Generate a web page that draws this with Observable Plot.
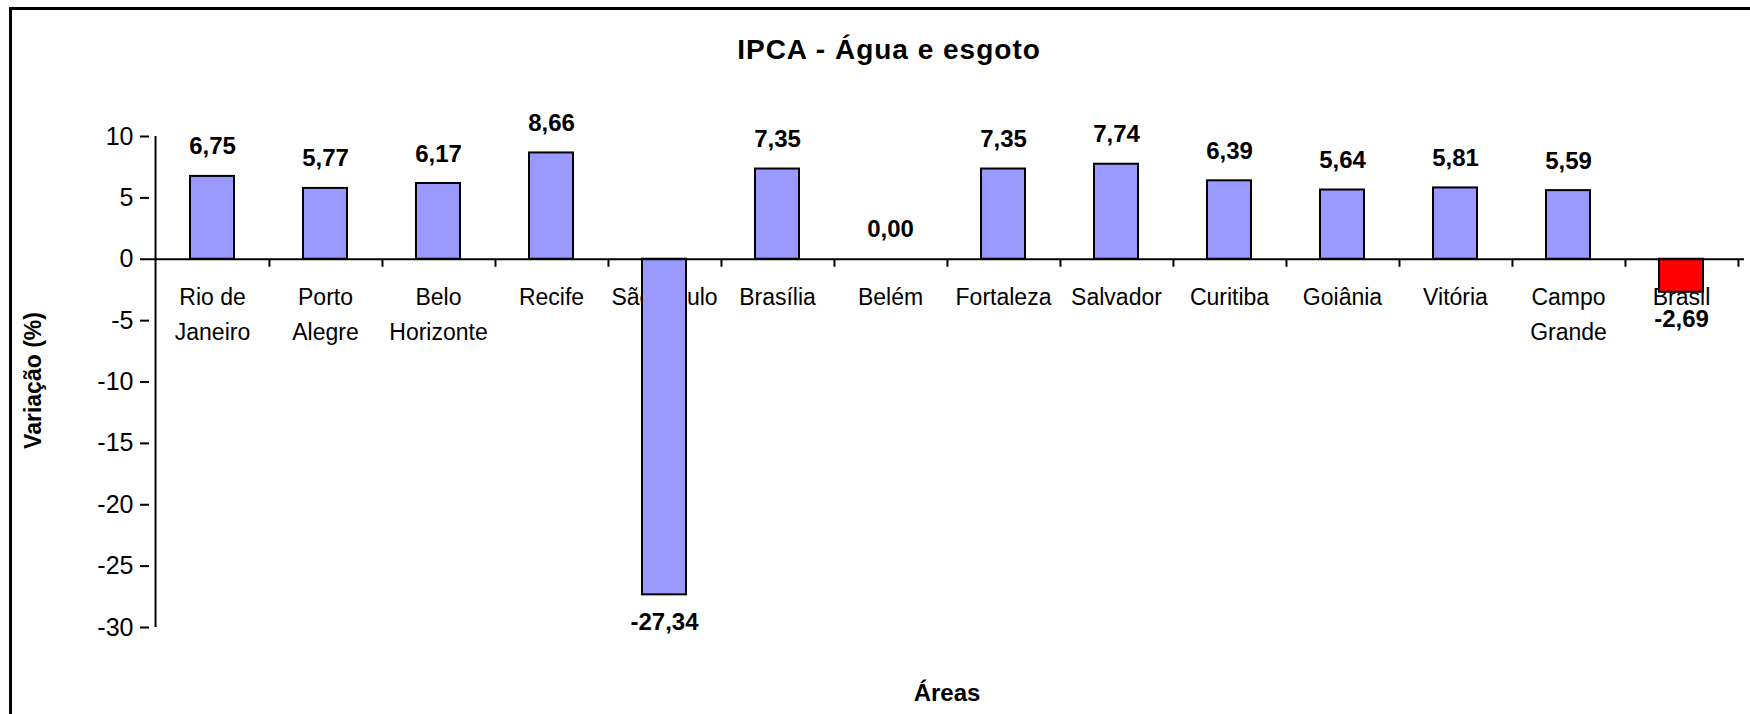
<!DOCTYPE html>
<html>
<head>
<meta charset="utf-8">
<script src="https://cdn.jsdelivr.net/npm/d3@7"></script>
<script src="https://cdn.jsdelivr.net/npm/@observablehq/plot@0.6"></script>
<style>
  html, body { margin: 0; padding: 0; background: #fff; }
  #page { position: relative; width: 1750px; height: 714px; overflow: hidden; font-family: "Liberation Sans", Arial, sans-serif; }
  #border { position: absolute; left: 9px; top: 7px; width: 1900px; height: 900px; border: 3px solid #000; box-sizing: border-box; pointer-events: none; }
  #title { position: relative; height: 100px; }
  #title span { position: absolute; left: 0; width: 1778px; top: 36px; text-align: center; font-size: 28px; font-weight: bold; line-height: 28px; letter-spacing: 1px; color: #000; }
  #chart svg { display: block; }
</style>
</head>
<body>
<div id="page">
  <div id="title"><span>IPCA - Água e esgoto</span></div>
  <div id="chart"></div>
  <div id="border"></div>
</div>
<script>
const chartTitle = "IPCA - Água e esgoto";
const xLabel = "Áreas";
const yLabel = "Variação (%)";
const areas = ["Rio de Janeiro", "Porto Alegre", "Belo Horizonte", "Recife", "São Paulo", "Brasília", "Belém", "Fortaleza", "Salvador", "Curitiba", "Goiânia", "Vitória", "Campo Grande", "Brasil"];
const areaLabels = ["Rio de\nJaneiro", "Porto\nAlegre", "Belo\nHorizonte", "Recife", "São Paulo", "Brasília", "Belém", "Fortaleza", "Salvador", "Curitiba", "Goiânia", "Vitória", "Campo\nGrande", "Brasil"];
const values = [6.75, 5.77, 6.17, 8.66, -27.34, 7.35, 0.00, 7.35, 7.74, 6.39, 5.64, 5.81, 5.59, -2.69];
const yTicks = [10, 5, 0, -5, -10, -15, -20, -25, -30];
const highlight = "Brasil";

document.querySelector("#title span").textContent = chartTitle;

const data = areas.map((a, i) => ({area: a, label: areaLabels[i], value: values[i]}));
const fmt = v => v.toFixed(2).replace(".", ",");

const W = 1750, H = 614;
const mL = 149, mR = 6, mT = 36, mB = 87;
const step = (W - mL - mR) / areas.length;
const font = "Liberation Sans, Arial, sans-serif";

const chart = Plot.plot({
  width: W,
  height: H,
  marginLeft: mL,
  marginRight: mR,
  marginTop: mT,
  marginBottom: mB,
  style: {fontFamily: font, color: "#000", background: "transparent"},
  x: {domain: areas, paddingInner: 0.61, paddingOuter: 0.305, axis: null},
  y: {domain: [-30, 10]},
  color: {type: "identity"},
  marks: [
    // category labels (drawn first: bars overlap them as in the original)
    Plot.text(data, {x: "area", y: () => 0, text: "label", lineAnchor: "top", dy: 21, fontSize: 23, lineHeight: 1.52, fill: "#000"}),
    Plot.barY(data, {x: "area", y: "value", fill: d => d.area === highlight ? "#FF0000" : "#9999FF", stroke: "#000", strokeWidth: 2}),
    // y axis line
    Plot.ruleX([areas[0]], {x: d => d, y1: -30, y2: 10, dx: -step / 2, stroke: "#000", strokeWidth: 2}),
    // zero baseline
    Plot.ruleY([0], {stroke: "#000", strokeWidth: 2}),
    // x ticks at band boundaries
    Plot.ruleX(areas, {x: d => d, y1: 0, y2: 0, insetBottom: -8, dx: step / 2, stroke: "#000", strokeWidth: 2}),
    Plot.axisY({ticks: yTicks, tickFormat: d => String(d), tickSize: 9, tickPadding: 7, fontSize: 25, strokeWidth: 2, label: null}),
    // value labels
    Plot.text(data.filter(d => d.value >= 0), {x: "area", y: "value", text: d => fmt(d.value), lineAnchor: "bottom", dy: -22, fontSize: 24, fontWeight: "bold", fill: "#000"}),
    Plot.text(data.filter(d => d.value < 0), {x: "area", y: "value", text: d => fmt(d.value), lineAnchor: "top", dy: 18, fontSize: 24, fontWeight: "bold", fill: "#000"}),
    // axis titles
    Plot.text([yLabel], {frameAnchor: "left", text: d => d, rotate: -90, textAnchor: "middle", lineAnchor: "bottom", dx: -109, dy: -1.5, fontSize: 23, fontWeight: "bold", fill: "#000"}),
    Plot.text([xLabel], {frameAnchor: "bottom", text: d => d, textAnchor: "middle", lineAnchor: "bottom", dy: 73, fontSize: 24, fontWeight: "bold", fill: "#000"})
  ]
});
document.getElementById("chart").appendChild(chart);
</script>
</body>
</html>
